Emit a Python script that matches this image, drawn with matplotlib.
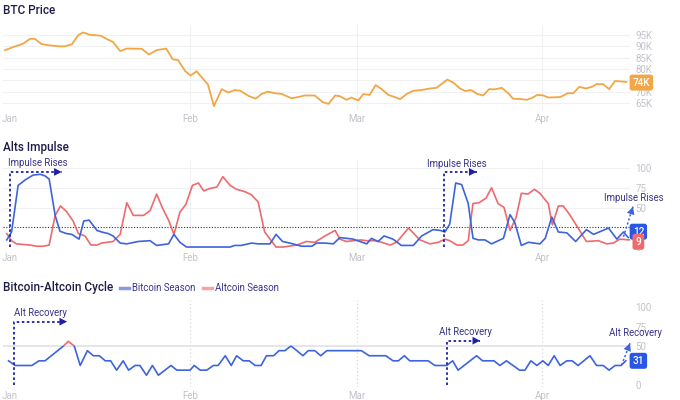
import numpy as np
import matplotlib
matplotlib.use("Agg")
import matplotlib.pyplot as plt
import matplotlib.transforms as mtransforms
from matplotlib.patches import Rectangle

plt.rcParams['font.family'] = ['Roboto', 'DejaVu Sans']

# month ticks (days since Jan 1)
month_days = [0, 31, 59, 90]
month_labels = ['Jan', 'Feb', 'Mar', 'Apr']

# BTC price (K USD)
btc_days = [0, 1.4, 3, 4.2, 5, 6.1, 7.5, 9, 10, 11.2, 12.3, 13.1, 14.2, 16, 17, 18.1, 19.3, 20.4,
            22.9, 24.1, 25.4, 27, 28.1, 29, 30.2, 31.1, 32.1, 34, 35, 36.3, 37.4, 38.5, 39.4, 40.8,
            42, 43, 44, 45.2, 46.3, 48, 49.1, 50.2, 51.9, 53.2, 54.2, 55.3, 56.1, 57.2, 58, 59.2,
            60, 61.1, 62.1, 63.1, 64.2, 65.3, 66.2, 67.3, 68.4, 69.8, 71.2, 72.3, 73.1, 74.1, 75.1,
            76.2, 77.1, 78.1, 79.1, 80.1, 81.1, 82.1, 83.2, 84.3, 85.1, 86.5, 87.4, 88.2, 89.2, 90.2,
            91, 93, 94.3, 95.2, 96.2, 97.3, 98.3, 99.1, 100.2, 101.2, 102.2, 104.1]
btc_price = [88.3, 89.7, 91.1, 93.3, 93.3, 91.0, 90.4, 90.0, 90.0, 90.9, 95.0, 96.1, 95.1, 94.7, 93.3,
             91.9, 87.9, 89.0, 88.9, 86.4, 88.3, 89.0, 84.3, 83.9, 79.0, 77.1, 79.0, 73.1, 63.6, 71.1,
             69.6, 70.7, 70.4, 68.1, 66.9, 69.0, 70.0, 69.3, 69.0, 67.1, 67.6, 68.3, 68.3, 65.4, 64.6,
             68.3, 68.0, 66.4, 67.4, 66.1, 68.9, 68.6, 72.9, 71.1, 68.6, 67.6, 66.7, 69.0, 70.4, 70.7,
             71.4, 71.7, 73.3, 75.3, 74.0, 71.4, 70.3, 70.7, 69.0, 68.3, 71.1, 71.0, 71.7, 69.3, 66.9,
             66.7, 66.4, 67.1, 68.6, 68.3, 67.4, 67.6, 69.3, 69.3, 72.1, 71.4, 72.1, 73.3, 73.3, 71.1,
             74.7, 74.3]
btc_ticks = [65, 70, 75, 80, 85, 90, 95]
btc_tick_labels = ['65K', '70K', '', '80K', '85K', '90K', '95K']  # 75K sits under the value box

# Alts impulse
blue_days = [0.3, 1.1, 2.2, 3.4, 4.7, 5.9, 6.7, 7.4, 8.4, 9.2, 10.3, 11.2, 12.4, 13.2, 14.1, 15.4,
             16.2, 17.3, 18.1, 19.3, 20.4, 22.3, 24.3, 25.4, 27.4, 28.3, 29.3, 30.4, 37.7, 38.5, 39.6,
             41.3, 42.4, 44.4, 45.4, 46.5, 47.7, 49.7, 51.4, 52.2, 53.6, 55, 56.1, 58.3, 60.6, 61.4,
             62.5, 63.5, 65, 66.4, 68.4, 69.8, 71.7, 72.9, 73.7, 74.5, 75.5, 76.5, 77.6, 78.4, 79.3,
             80.4, 81.5, 83.5, 84.6, 85.4, 86.5, 87.7, 89.6, 90.5, 91.6, 92.7, 94.1, 95.6, 97.4, 98.6,
             101.1, 102.5, 103.6, 104.4]
blue_impulse = [9, 19, 78, 85, 91, 92, 90, 86, 40, 20, 17, 16, 10, 33, 34, 21, 19, 17, 14, 5,
                4, 7, 8, 2, 4, 16, 6, 0, 0, 2, 2, 5, 4, 4, 16, 7, 5, 1, 1, 5,
                5, 4, 12, 10, 4, 11, 7, 14, 10, 2, 2, 14, 22, 21, 19, 29, 81, 79, 55, 11,
                9, 9, 4, 11, 41, 31, 2, 6, 4, 11, 38, 19, 18, 7, 22, 16, 24, 10, 19, 12]
red_days = [0.3, 1.1, 1.9, 4.2, 5.3, 6.4, 7.4, 8.4, 9.3, 10.3, 11.4, 12.3, 13.4, 14.4, 15.4, 16.2,
            18.1, 19.3, 20.4, 21.5, 23.2, 24.3, 25.4, 26.4, 27.4, 28.3, 29.3, 30.3, 31.4, 32.4, 33.3,
            34.3, 35.5, 36.5, 37.7, 38.8, 40.2, 41.3, 42.4, 43.5, 45.4, 46.6, 48.9, 50.5, 51.9, 53.6,
            55.3, 56.1, 57.2, 59.5, 60.6, 62, 63.1, 64.5, 65.6, 67.6, 69.5, 71.2, 72.6, 73.7, 74.5,
            75.7, 76.7, 77.6, 78.4, 79.4, 80.6, 81.5, 82.6, 83.6, 84.6, 85.6, 86.5, 87.6, 88.7, 89.6,
            91, 91.7, 92.7, 93.5, 94.6, 96, 97.4, 99.4, 100.8, 101.9, 103, 104.6]
red_impulse = [17, 8, 4, 2.5, 1, 1, 2.5, 40, 52, 45, 33, 17, 14, 2.5, 2.5, 5, 7, 16, 56, 40,
               40, 46, 67, 49, 34, 16, 44, 54, 78, 81, 71, 74, 76, 89, 78, 73, 70, 66, 57, 19,
               0, 0, 2.5, 7, 6, 14, 21, 10, 7, 9, 8, 8, 6, 2.5, 6, 24, 9, 4, 6, 10,
               8, 2.5, 2.5, 8, 55, 56, 62, 75, 55, 50, 21, 37, 68, 67, 73, 68, 55, 28, 52, 52,
               41, 24, 7, 8, 4, 5, 10, 9]

# Bitcoin-Altcoin cycle
cycle_days = [0.6, 1.7, 4.5, 5.7, 6.7, 9.8, 10.6, 11.6, 12.6, 13.8, 14.8, 15.8, 16.8, 17.7, 18.7,
              19.8, 20.7, 21.8, 22.6, 23.7, 24.7, 25.7, 26.8, 27.8, 28.8, 31, 31.7, 32.7, 33.8, 34.9,
              35.7, 36.9, 37.9, 38.8, 39.9, 40.9, 41.9, 42.9, 43.8, 45, 45.9, 46.9, 47.9, 48.9, 49.9,
              50.8, 51.9, 52.9, 53.9, 59.7, 61, 63.8, 65, 65.9, 66.9, 67.8, 70.9, 72, 74, 75, 75.9,
              79, 80, 81.9, 82.9, 84, 85.1, 86.2, 87.1, 88.1, 89.1, 90.1, 91, 92, 93, 94.1, 95, 96,
              98, 99.1, 100.2, 101.2, 102.2, 103.2, 104]
cycle_vals = [31, 25, 25, 31, 31, 50, 56, 50, 25, 44, 37.5, 37.5, 31, 31, 19,
              31, 19, 25, 25, 12.5, 25, 12.5, 19, 25, 19, 19, 25, 19, 19, 25,
              25, 37.5, 25, 37.5, 31, 31, 25, 25, 37.5, 37.5, 44, 44, 50, 44, 37.5,
              44, 44, 37.5, 44, 44, 37.5, 37.5, 31, 31, 37.5, 31, 31, 25, 25, 31, 19,
              37.5, 31, 31, 25, 31, 25, 19, 19, 31, 25, 31, 25, 37.5, 25, 31, 31, 25,
              37.5, 25, 25, 19, 25, 25, 31]
pct_ticks = [0, 25, 50, 75, 100]
pct_tick_labels = ['0', '', '50', '75', '100']  # 25 sits under the value boxes

ORANGE = '#f2a646'
BLUE = '#3d63dd'
RED = '#ee6a6c'
NAVY = '#1e1d4a'
ANN = '#1f1fa6'
ANN_TXT = '#38358a'
TICK = '#c2c2ca'
GRID = '#f1f1f3'
ANN_SIZE = 6.9

XMIN, XMAX = -0.335, 104.7

fig = plt.figure(figsize=(6.8, 4.0), dpi=100)
ax1 = fig.add_axes([3 / 680, 1 - 110 / 400, 627 / 680, 85 / 400])
ax2 = fig.add_axes([3 / 680, 1 - 249 / 400, 627 / 680, 89 / 400])
ax3 = fig.add_axes([3 / 680, 1 - 387 / 400, 627 / 680, 87 / 400])


def base(ax, yticks, ylim, ylabels):
    ax.set_xlim(XMIN, XMAX)
    ax.set_ylim(*ylim)
    for s in ax.spines.values():
        s.set_visible(False)
    ax.set_xticks(month_days)
    ax.set_xticklabels(month_labels)
    ax.yaxis.tick_right()
    ax.set_yticks(yticks)
    ax.set_yticklabels(ylabels)
    ax.tick_params(axis='both', length=0, labelsize=7, labelcolor=TICK)
    ax.tick_params(axis='y', pad=4)
    ax.tick_params(axis='x', pad=3)
    # keep "Jan" inside the figure
    jan = ax.get_xticklabels()[0]
    jan.set_ha('left')
    jan.set_transform(jan.get_transform() + mtransforms.ScaledTranslation(-3 / 100, 0, fig.dpi_scale_trans))


def ann_arrow(ax, xs, ys, color, lw=1.3):
    ax.plot(xs, ys, ls=(0, (1.4, 1.4)), lw=lw, color=color, clip_on=False, zorder=6)
    ax.annotate('', xy=(xs[-1], ys[-1]), xytext=(xs[-2], ys[-2]),
                arrowprops=dict(arrowstyle='-|>,head_length=0.55,head_width=0.28',
                                color=color, lw=0, shrinkA=0, shrinkB=0),
                zorder=7, annotation_clip=False)


def value_box(ax, x, y, txt, color):
    ax.text(x, y, txt, ha='center', va='center', fontsize=7.2, color='white',
            fontweight='medium', clip_on=False, zorder=10,
            bbox=dict(boxstyle='round,pad=0.3,rounding_size=0.25', fc=color, ec='none'))


def title(y, txt):
    fig.text(3 / 680, 1 - y / 400, txt, fontsize=8.5, color=NAVY,
             fontweight='medium', va='center', ha='left')


# --- BTC Price
base(ax1, btc_ticks, (61.9, 99.4), btc_tick_labels)
for t in btc_ticks:
    ax1.axhline(t, color=GRID, lw=0.8, zorder=0)
for d in month_days[1:]:
    ax1.axvline(d, color=GRID, lw=0.8, zorder=0)
ax1.plot(btc_days, btc_price, color=ORANGE, lw=1.3, zorder=3)
value_box(ax1, 106.6, btc_price[-1] - 0.3, '74K', ORANGE)
title(11, 'BTC Price')

# --- Alts Impulse
base(ax2, pct_ticks, (-2.5, 110.1), pct_tick_labels)
for t in [50, 75, 100]:
    ax2.axhline(t, color=GRID, lw=0.8, zorder=0)
for d in month_days[1:]:
    ax2.axvline(d, color=GRID, lw=0.8, zorder=0)
ax2.axhline(25, color='#333333', lw=0.8, ls=(0, (1, 1.5)), zorder=2)
ax2.plot(red_days, red_impulse, color=RED, lw=1.2, zorder=3)
ax2.plot(blue_days, blue_impulse, color=BLUE, lw=1.2, zorder=4)
value_box(ax2, 106.1, 19.4, str(blue_impulse[-1]), '#2a56e6')
value_box(ax2, 106.1, 6.7, str(int(red_impulse[-1])), RED)

ann_arrow(ax2, [0.84, 0.84, 9.5], [0, 95, 95], ANN)
ax2.text(5.5, 106, 'Impulse Rises', fontsize=ANN_SIZE, color=ANN_TXT, ha='center', va='center')
ann_arrow(ax2, [73.6, 73.6, 79.0], [0, 95, 95], ANN)
ax2.text(75.7, 104.7, 'Impulse Rises', fontsize=ANN_SIZE, color=ANN_TXT, ha='center',
         va='center', zorder=8)
ann_arrow(ax2, [103.6, 105.2], [13, 51], BLUE, lw=1.1)
ax2.text(105.4, 61.6, 'Impulse Rises', fontsize=ANN_SIZE, color=ANN_TXT, ha='center',
         va='center', clip_on=False, zorder=8)
title(148, 'Alts Impulse')

# --- Bitcoin-Altcoin Cycle
base(ax3, pct_ticks, (-2.6, 109), pct_tick_labels)
for d in month_days[1:]:
    ax3.axvline(d, color='#d6d6dc', lw=0.9, ls=(0, (1, 2)), zorder=0)
ax3.axhline(50, color='#e6e6ea', lw=1.4, zorder=1)
lb, = ax3.plot(cycle_days, cycle_vals, color=BLUE, lw=1.2, zorder=3)
lr, = ax3.plot(cycle_days, cycle_vals, color=RED, lw=1.2, zorder=4)
lb.set_clip_path(Rectangle((-10, -50), 130, 100, transform=ax3.transData))
lr.set_clip_path(Rectangle((-10, 50), 130, 100, transform=ax3.transData))
value_box(ax3, 106.1, cycle_vals[-1], '31', '#2a56e6')

ann_arrow(ax3, [1.5, 1.5, 10.4], [0, 81.2, 81.2], ANN)
ax3.text(6.0, 92.3, 'Alt Recovery', fontsize=ANN_SIZE, color=ANN_TXT, ha='center', va='center')
ann_arrow(ax3, [74.0, 74.0, 79.6], [0, 56.8, 56.8], ANN)
ax3.text(77.1, 68.3, 'Alt Recovery', fontsize=ANN_SIZE, color=ANN_TXT, ha='center',
         va='center', zorder=8)
ann_arrow(ax3, [103.3, 104.7], [25.6, 53.5], BLUE, lw=1.1)
ax3.text(105.6, 66.3, 'Alt Recovery', fontsize=ANN_SIZE, color=ANN_TXT, ha='center',
         va='center', clip_on=False, zorder=8)

title(288, 'Bitcoin-Altcoin Cycle')
h1 = plt.Line2D([], [], color='#8799ea', lw=2.5)
h2 = plt.Line2D([], [], color='#f4a3a8', lw=2.5)
fig.legend([h1, h2], ['Bitcoin Season', 'Altcoin Season'], ncol=2, frameon=False,
           loc='center left', bbox_to_anchor=(120 / 680, 1 - 288 / 400), fontsize=6.9,
           labelcolor=ANN_TXT, handlelength=0.9, handletextpad=0.35, columnspacing=0.8,
           borderpad=0, borderaxespad=0)

fig.savefig('out.png', dpi=100, facecolor='white')
